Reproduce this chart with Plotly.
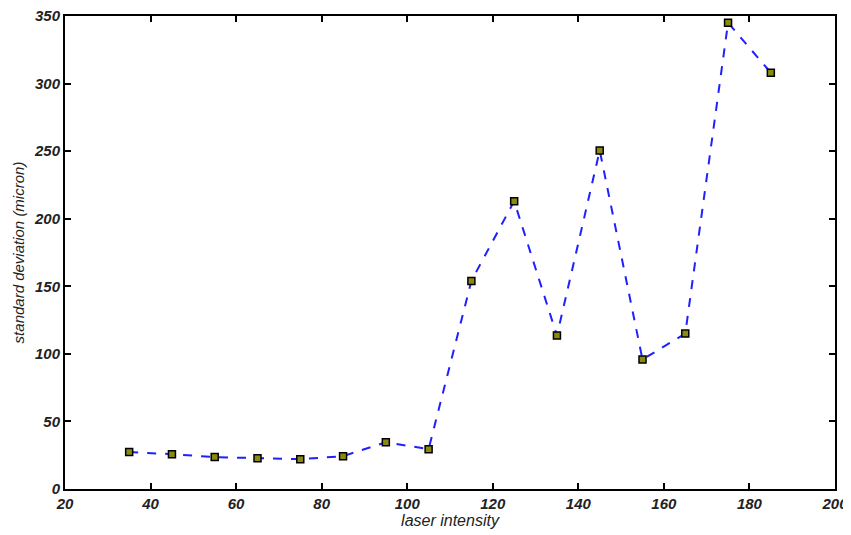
import plotly.graph_objects as go

intensity = [35, 45, 55, 65, 75, 85, 95, 105, 115, 125, 135, 145, 155, 165, 175, 185]
std_dev = [27.3, 25.8, 23.6, 22.8, 22.1, 24.3, 34.6, 29.5, 154, 213, 113.5, 250.5, 95.8, 115, 345, 308]

x_ticks = [20, 40, 60, 80, 100, 120, 140, 160, 180, 200]
y_ticks = [0, 50, 100, 150, 200, 250, 300, 350]

fig = go.Figure(go.Scatter(
    x=intensity, y=std_dev,
    mode='lines+markers',
    line=dict(color='#1f1fff', width=2, dash='dash'),
    marker=dict(symbol='square', size=7, color='#8a8a10',
                line=dict(color='black', width=1.5)),
))

axis_style = dict(
    showline=True, linecolor='black', linewidth=2, mirror='ticks',
    ticks='inside', ticklen=6, tickwidth=2, tickcolor='black',
    showgrid=False, zeroline=False, automargin=False,
    ticklabeloverflow='allow',
    tickfont=dict(family='Liberation Sans, Arial', size=15, color='#222',
                  style='italic', weight='bold'),
)

# page body adds 8px on top/left, margins are set so the box lands where the original is
fig.update_layout(
    width=851, height=535,
    margin=dict(l=57, r=24, t=8, b=54, autoexpand=False),
    plot_bgcolor='white', paper_bgcolor='white',
    showlegend=False,
    xaxis=dict(range=[20, 200], tickvals=x_ticks,
               title=dict(text='laser intensity', standoff=2,
                          font=dict(family='Liberation Sans, Arial', size=16,
                                    color='#222', style='italic')),
               **axis_style),
    yaxis=dict(range=[0, 350], tickvals=y_ticks,
               title=dict(text='standard deviation (micron)', standoff=6,
                          font=dict(family='Liberation Sans, Arial', size=15,
                                    color='#222', style='italic')),
               **axis_style),
)

fig.write_html("out.html")
